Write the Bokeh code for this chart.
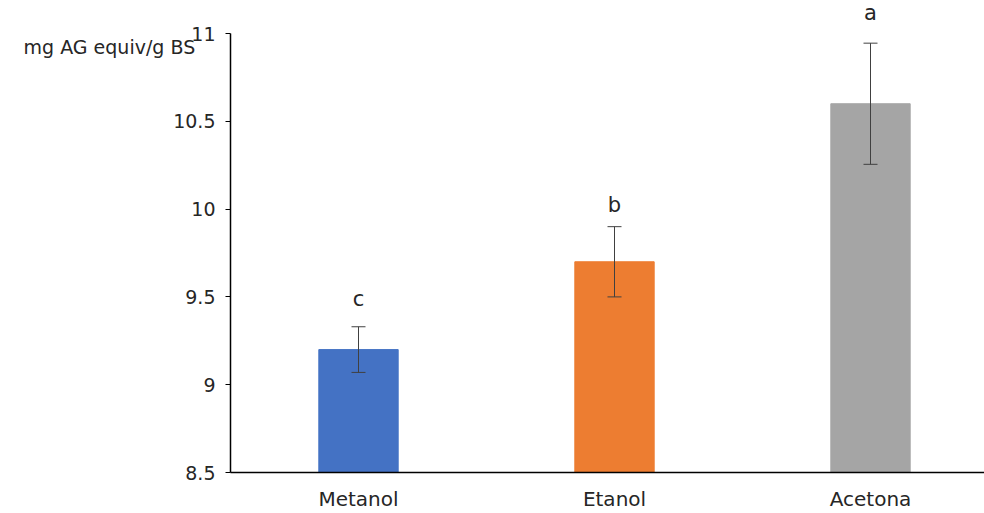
from bokeh.plotting import figure
from bokeh.models import ColumnDataSource, Whisker, Range1d, FixedTicker, TeeHead
from bokeh.embed import file_html
from bokeh.resources import INLINE
from bokeh.core.properties import value

categories = ["Metanol", "Etanol", "Acetona"]
means = [9.2, 9.7, 10.6]
errors = [0.13, 0.2, 0.345]
letters = ["c", "b", "a"]
colors = ["#4472C4", "#ED7D31", "#A5A5A5"]
y_ticks = [8.5, 9, 9.5, 10, 10.5, 11]
y_tick_labels = ["8.5", "9", "9.5", "10", "10.5", "11"]
y_title = "mg AG equiv/g BS"

# style: gap (px) between error-bar cap and letter
letter_gap = [-16, -10, -18]

xs = [i + 1 for i in range(len(categories))]
src = ColumnDataSource(dict(
    x=xs, top=means, color=colors,
    upper=[m + e for m, e in zip(means, errors)],
    lower=[m - e for m, e in zip(means, errors)],
    letter=letters, gap=letter_gap,
))

FONT = "DejaVu Sans"
TXT = "#262626"

p = figure(width=984, height=513, output_backend="svg", toolbar_location=None,
           x_range=Range1d(0.5, 0.5 + 754 / 256), y_range=Range1d(8.5, 11 + 33 / 175.6),
           min_border_left=230, min_border_right=0, min_border_top=0, min_border_bottom=41)
p.outline_line_color = None
p.xgrid.visible = False
p.ygrid.visible = False
p.background_fill_color = "white"

p.vbar(x="x", top="top", bottom=8.5, width=0.31, color="color", source=src)

w = Whisker(base="x", upper="upper", lower="lower", source=src,
            line_color="#404040", line_width=1, level="overlay",
            upper_head=TeeHead(size=14, line_color="#404040", line_width=1),
            lower_head=TeeHead(size=14, line_color="#404040", line_width=1))
p.add_layout(w)

p.text(x="x", y="upper", text="letter", source=src, text_align="center",
       text_baseline="bottom", y_offset="gap", text_font=value(FONT),
       text_font_size="21px", text_color=TXT)

# axes
p.yaxis.ticker = FixedTicker(ticks=y_ticks)
p.yaxis.major_label_overrides = {t: l for t, l in zip(y_ticks, y_tick_labels)}
p.yaxis.bounds = (8.5, 11)
p.yaxis.major_tick_line_color = "black"
p.yaxis.major_tick_out = 5
p.yaxis.major_tick_in = 0
p.yaxis.minor_tick_line_color = None
p.yaxis.axis_line_color = "black"
p.yaxis.axis_line_width = 1.5
p.yaxis.major_label_text_font = FONT
p.yaxis.major_label_text_font_size = "19px"
p.yaxis.major_label_text_color = TXT
p.yaxis.major_label_standoff = 10
# blank lines above the title push it down from the top of the axis
p.yaxis.axis_label = "\n" * 5 + y_title
p.yaxis.axis_label_orientation = "horizontal"
p.yaxis.axis_label_align = "end"
p.yaxis.axis_label_standoff = -25
p.yaxis.axis_label_text_line_height = 0.85
p.yaxis.axis_label_text_font = FONT
p.yaxis.axis_label_text_font_size = "19px"
p.yaxis.axis_label_text_font_style = "normal"
p.yaxis.axis_label_text_color = TXT

p.xaxis.ticker = FixedTicker(ticks=xs)
p.xaxis.major_label_overrides = {x: c for x, c in zip(xs, categories)}
p.xaxis.major_tick_line_color = None
p.xaxis.minor_tick_line_color = None
p.xaxis.axis_line_color = "black"
p.xaxis.axis_line_width = 1.5
p.xaxis.major_label_text_font = FONT
p.xaxis.major_label_text_font_size = "20px"
p.xaxis.major_label_text_color = TXT
p.xaxis.major_label_standoff = 8

open("out.html", "w").write(file_html(p, INLINE))
